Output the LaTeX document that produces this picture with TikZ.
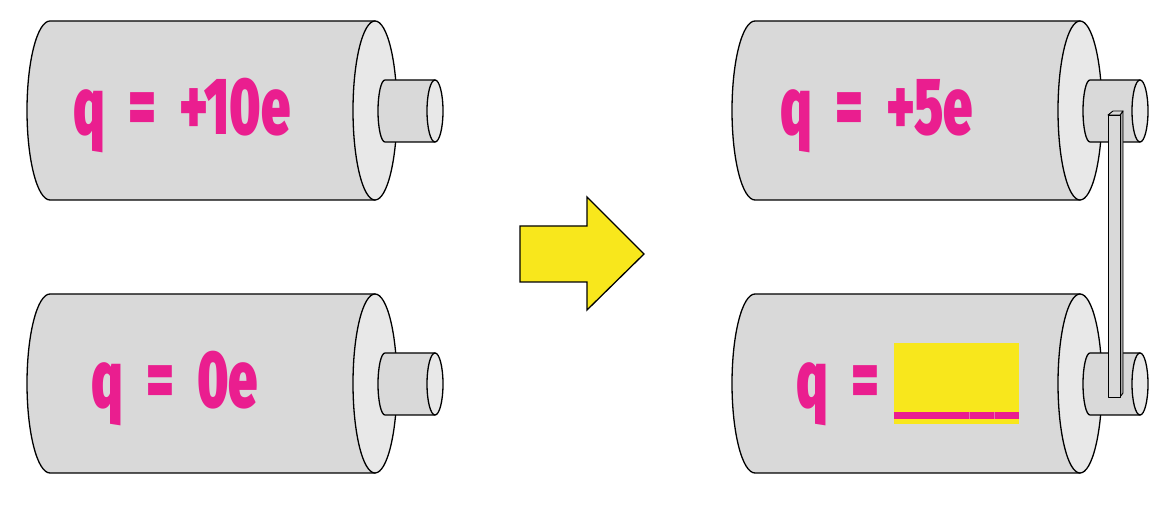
\documentclass[tikz,border=0pt]{standalone}
\usepackage{fontspec}
\usepackage{tikz}
\usetikzlibrary{positioning}
\newfontfamily\chargefont{Fira Sans Black}[FakeStretch=0.65,WordSpace=2.0]
\definecolor{cellgray}{HTML}{D9D9D9}
\definecolor{facegray}{HTML}{E8E8E8}
\definecolor{sidegray}{HTML}{A8A8A8}
\definecolor{chargepink}{HTML}{EA1E8F}
\definecolor{arrowyellow}{HTML}{F8E71C}

\newcommand{\cell}[2]{%
  \begin{scope}[shift={(#1,#2)}]
    \draw[body] (375,489) -- (50,489) arc[start angle=90,end angle=270,x radius=23pt,y radius=89.5pt] -- (375,310) -- cycle;
    \draw[face] (375,399.5) ellipse[x radius=22pt,y radius=89.5pt];
    \draw[body] (435,430) -- (385,430) arc[start angle=90,end angle=270,x radius=7pt,y radius=31pt] -- (435,368) -- cycle;
    \draw[face] (435,399) ellipse[x radius=8pt,y radius=31pt];
  \end{scope}}

\begin{document}
\begin{tikzpicture}[x=1pt,y=1pt,line join=round]
  \tikzstyle{body}=[draw=black,line width=1.3pt,fill=cellgray]
  \tikzstyle{face}=[draw=black,line width=1.3pt,fill=facegray]
  \tikzstyle{charge}=[anchor=base west,inner sep=0pt,text=chargepink,font=\chargefont\fontsize{81}{81}\selectfont]
  \useasboundingbox (0,0) rectangle (1172,510);

  \cell{0}{0}
  \cell{0}{-273}
  \cell{705}{0}
  \cell{705}{-273}

  \node[charge] (qa) at (73,375) {q = +10e};
  \node[charge] (qb) at (91,102) {q = 0e};
  \node[charge] (qc) at (780,375) {q = +5e};
  \node[charge] (qd) at (796,102) {q =};

  \fill[arrowyellow] (894,86) rectangle (1019,167);
  \fill[chargepink] (894,91) rectangle (1019,98);
  \draw[facegray!40!chargepink,line width=0.6pt] (969,91) -- (969,98) (994,91) -- (994,98);

  \draw[fill=arrowyellow,line width=1.3pt,line join=miter]
    (520,284) -- (587,284) -- (587,313) -- (644,256) -- (587,200) -- (587,228) -- (520,228) -- cycle;

  \draw[fill=sidegray,line width=0.9pt] (1120,395) -- (1123,399) -- (1123,117) -- (1120,113) -- cycle;
  \draw[fill=cellgray,line width=0.9pt] (1108,395) -- (1113,399) -- (1123,399) -- (1120,395) -- cycle;
  \draw[fill=cellgray,line width=0.9pt] (1108,113) rectangle (1120,395);
\end{tikzpicture}
\end{document}
